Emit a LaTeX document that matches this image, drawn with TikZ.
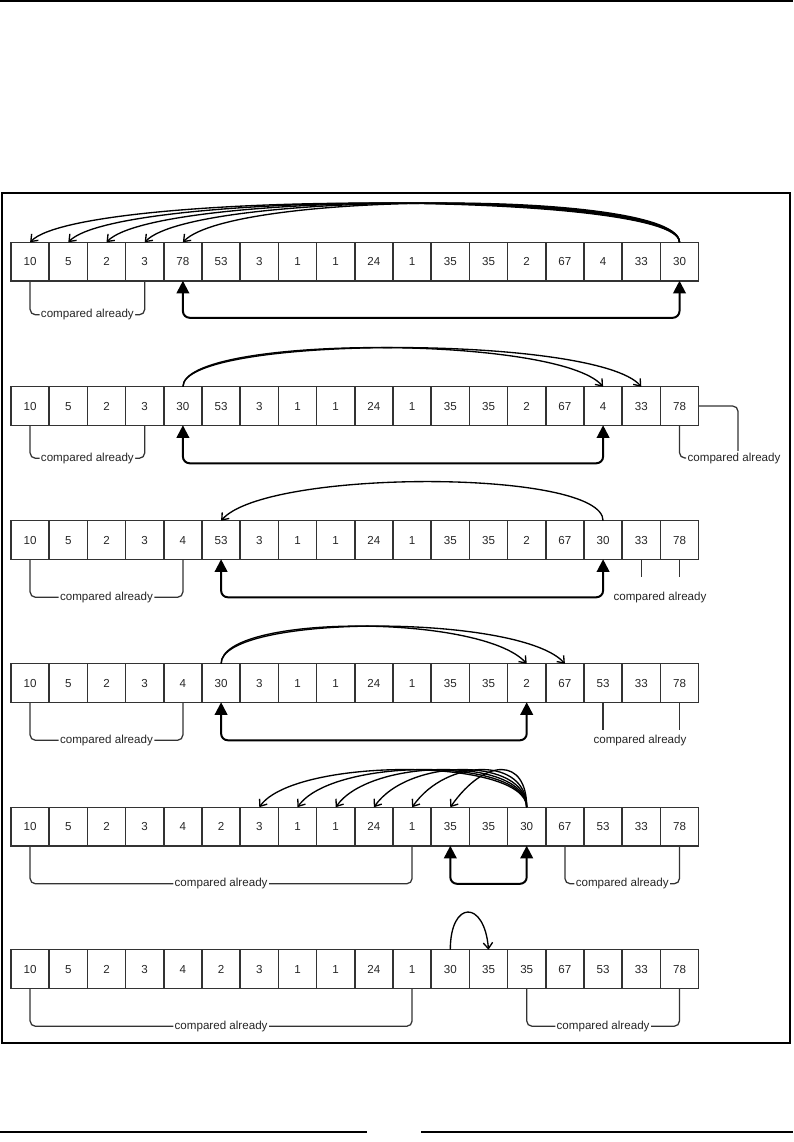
\documentclass[tikz,border=0pt]{standalone}
\usepackage{fontspec}
\setmainfont{Liberation Sans}
\usetikzlibrary{arrows.meta,calc}

\begin{document}
\begin{tikzpicture}[x=0.75pt,y=-0.75pt,font=\fontsize{8.7}{10}\selectfont,
  cell/.style={draw=black!80,line width=1.1pt,minimum width=28.65pt,
    minimum height=28.9pt,inner sep=0pt,outer sep=0pt,text=black!85,
    text height=6.2pt,text depth=0pt},
  movearc/.style={line width=1pt,-{Straight Barb[length=4.5pt,width=7pt]}},
  swapline/.style={line width=1.5pt,rounded corners=5pt,
    {Triangle[length=9.5pt,width=9.5pt]}-{Triangle[length=9.5pt,width=9.5pt]}},
  donebr/.style={line width=0.95pt,draw=black!80,rounded corners=4pt},
  lbl/.style={fill=white,inner sep=1pt,text=black!85}]

  \useasboundingbox (0,0) rectangle (793,1142);

  %,  Page rules and frame, 
  \draw[line width=1.5pt] (0,1) -- (793,1);
  \draw[line width=0.9pt] (2,193) rectangle (790,1043);
  \draw[line width=1.2pt] (0,1132) -- (367,1132);
  \draw[line width=1.2pt] (421,1132) -- (793,1132);

  %,  Row 1, 
  \foreach \v [count=\i] in {10,5,2,3,78,53,3,1,1,24,1,35,35,2,67,4,33,30}
    \node[cell] (r1-\i) at ({11+38.2*(\i-0.5)},261.5) {\v};
  \foreach \j in {1,...,5}
    \draw[movearc] (r1-18.north) .. controls +(0,-52) and +(50,-52) .. (r1-\j.north);
  \draw[swapline] (r1-5.south) -- ++(0,37) -| (r1-18.south);
  \draw[donebr] (r1-1.south) -- ++(0,34) -| (r1-4.south)
    node[lbl,pos=0.25] {compared already};

  %,  Row 2, 
  \foreach \v [count=\i] in {10,5,2,3,30,53,3,1,1,24,1,35,35,2,67,4,33,78}
    \node[cell] (r2-\i) at ({11+38.2*(\i-0.5)},406) {\v};
  \foreach \j in {16,17}
    \draw[movearc] (r2-5.north) .. controls +(0,-52) and +(-45,-52) .. (r2-\j.north);
  \draw[swapline] (r2-5.south) -- ++(0,38) -| (r2-16.south);
  \draw[donebr] (r2-1.south) -- ++(0,33) -| (r2-4.south)
    node[lbl,pos=0.25] {compared already};
  \node[lbl,anchor=west] (ca2) at (686,458) {compared already};
  \draw[donebr] (r2-18.south) |- (ca2.west);
  \draw[donebr] (r2-18.east) -| ($(ca2.north)+(4,0)$);

  %,  Row 3, 
  \foreach \v [count=\i] in {10,5,2,3,4,53,3,1,1,24,1,35,35,2,67,30,33,78}
    \node[cell] (r3-\i) at ({11+38.2*(\i-0.5)},540) {\v};
  \draw[movearc] (r3-16.north) .. controls +(0,-52) and +(45,-52) .. (r3-6.north);
  \draw[swapline] (r3-6.south) -- ++(0,38) -| (r3-16.south);
  \draw[donebr] (r3-1.south) -- ++(0,38) -| (r3-5.south)
    node[lbl,pos=0.25] {compared already};
  \node[lbl] (ca3) at (660,597) {compared already};
  \draw[donebr] (r3-17.south) -- ++(0,18);
  \draw[donebr] (r3-18.south) -- ++(0,18);

  %,  Row 4, 
  \foreach \v [count=\i] in {10,5,2,3,4,30,3,1,1,24,1,35,35,2,67,53,33,78}
    \node[cell] (r4-\i) at ({11+38.2*(\i-0.5)},683) {\v};
  \foreach \j in {14,15}
    \draw[movearc] (r4-6.north) .. controls +(0,-50) and +(-45,-50) .. (r4-\j.north);
  \draw[swapline] (r4-6.south) -- ++(0,38) -| (r4-14.south);
  \draw[donebr] (r4-1.south) -- ++(0,38) -| (r4-5.south)
    node[lbl,pos=0.25] {compared already};
  \node[lbl] (ca4) at (640,740) {compared already};
  \draw[donebr] (r4-16.south) -- ++(0,28);
  \draw[donebr] (r4-18.south) -- ++(0,28);

  %,  Row 5, 
  \foreach \v [count=\i] in {10,5,2,3,4,2,3,1,1,24,1,35,35,30,67,53,33,78}
    \node[cell] (r5-\i) at ({11+38.2*(\i-0.5)},826.5) {\v};
  \foreach \j in {7,...,12}
    \draw[movearc] (r5-14.north) .. controls +(0,-50) and +(35,-50) .. (r5-\j.north);
  \draw[swapline] (r5-12.south) -- ++(0,38) -| (r5-14.south);
  \draw[donebr] (r5-1.south) -- ++(0,38) -| (r5-11.south)
    node[lbl,pos=0.25] {compared already};
  \draw[donebr] (r5-15.south) -- ++(0,38) -| (r5-18.south)
    node[lbl,pos=0.25] {compared already};

  %,  Row 6, 
  \foreach \v [count=\i] in {10,5,2,3,4,2,3,1,1,24,1,30,35,35,67,53,33,78}
    \node[cell] (r6-\i) at ({11+38.2*(\i-0.5)},969) {\v};
  \draw[movearc] (r6-12.north) .. controls +(0,-50) and +(-4,-50) .. (r6-13.north);
  \draw[donebr] (r6-1.south) -- ++(0,38) -| (r6-11.south)
    node[lbl,pos=0.25] {compared already};
  \draw[donebr] (r6-14.south) -- ++(0,38) -| (r6-18.south)
    node[lbl,pos=0.25] {compared already};

\end{tikzpicture}
\end{document}
